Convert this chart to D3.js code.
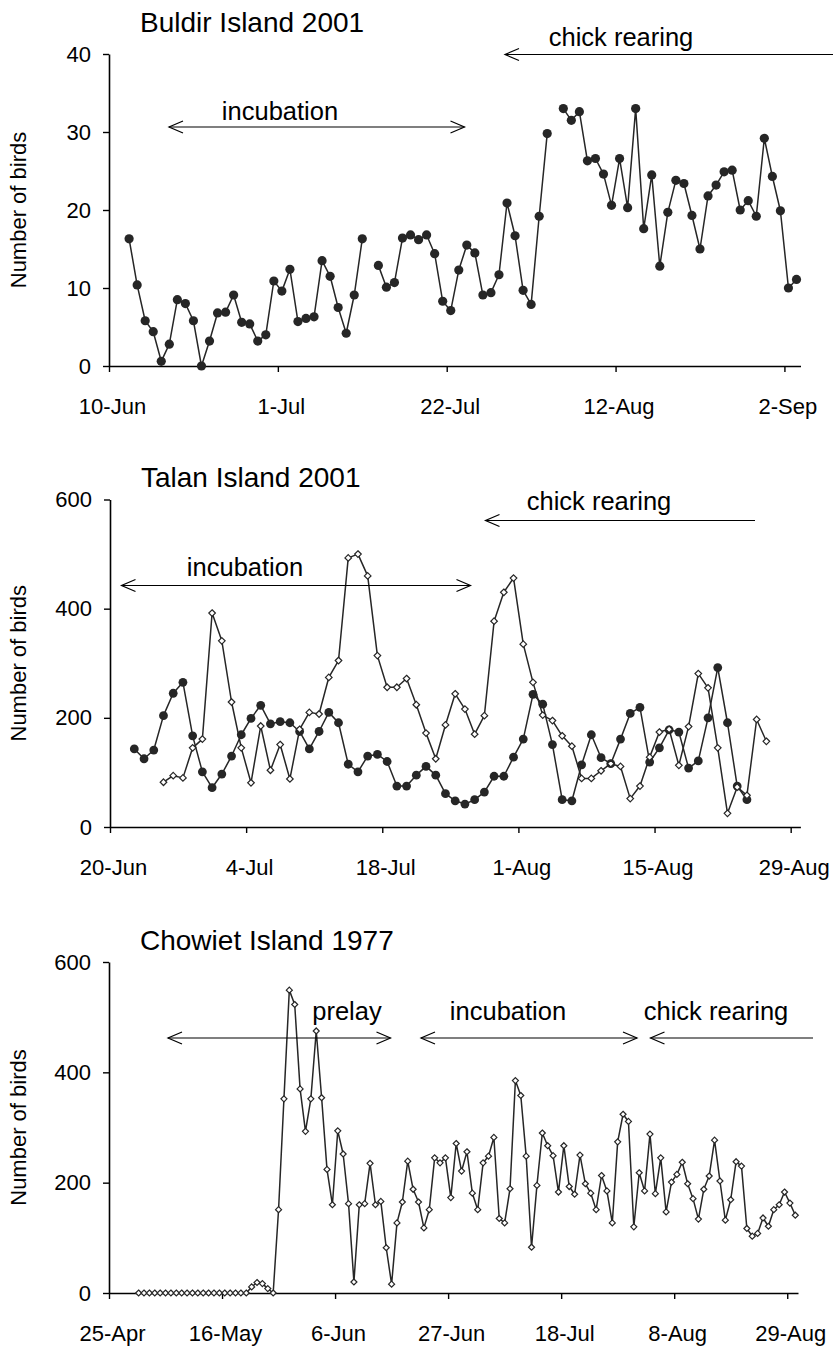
<!DOCTYPE html>
<html>
<head>
<meta charset="utf-8">
<script src="https://cdn.jsdelivr.net/npm/d3@7"></script>
<style>
  html, body { margin: 0; padding: 0; background: #fff; }
  svg { display: block; font-family: "Liberation Sans", Arial, Helvetica, sans-serif; }
</style>
</head>
<body>
<svg id="chart" width="833" height="1353"></svg>
<script>
// ---- Daily counts -------------------------------------------------------
// Buldir Island 2001, one count per day starting 12 June (null = no count)
const buldirStart = "2001-06-12";
const buldirCounts = [
  16.3, 10.4, 5.8, 4.4, 0.6, 2.8, 8.5, 8.0, 5.8, 0,
  3.2, 6.8, 6.9, 9.1, 5.6, 5.4, 3.2, 4.0, 10.9, 9.6,
  12.4, 5.7, 6.1, 6.3, 13.5, 11.5, 7.5, 4.2, 9.1, 16.3,
  null, 12.9, 10.1, 10.7, 16.4, 16.8, 16.2, 16.8, 14.4, 8.3,
  7.1, 12.3, 15.5, 14.5, 9.1, 9.4, 11.7, 20.9, 16.7, 9.7,
  7.9, 19.2, 29.8, null, 33.0, 31.5, 32.6, 26.3, 26.6, 24.6,
  20.6, 26.6, 20.3, 33.0, 17.6, 24.5, 12.8, 19.7, 23.8, 23.4,
  19.3, 15.0, 21.8, 23.2, 24.9, 25.1, 20.0, 21.2, 19.2, 29.2,
  24.3, 19.9, 10.0, 11.1
];

// Talan Island 2001, filled-circle series from 22 June
const talanFilledStart = "2001-06-22";
const talanFilled = [
  143, 125, 141, 204, 245, 265, 167, 101, 72, 97,
  130, 169, 199, 223, 189, 193, 191, 175, 143, 175,
  210, 191, 115, 101, 130, 133, 120, 75, 75, 95,
  111, 95, 61, 48, 42, 50, 64, 93, 93, 128,
  161, 243, 225, 151, 50, 48, 114, 169, 127, 116,
  161, 208, 219, 119, 145, 178, 174, 108, 121, 200,
  292, 191, 75, 50
];

// Talan Island 2001, open-diamond series from 25 June
const talanOpenStart = "2001-06-25";
const talanOpen = [
  82, 94, 90, 145, 161, 392, 341, 229, 145, 81,
  185, 104, 151, 88, 179, 210, 207, 274, 305, 493,
  500, 460, 314, 256, 256, 272, 224, 172, 125, 187,
  244, 216, 170, 204, 377, 430, 456, 335, 265, 205,
  195, 167, 148, 89, 89, 103, 116, 111, 52, 75,
  128, 174, 179, 113, 184, 281, 255, 145, 25, 73,
  58, 197, 157
];

// Chowiet Island 1977, open-diamond series from 30 April
const chowietStart = "1977-04-30";
const chowietCounts = [
  0, 0, 0, 0, 0, 0, 0, 0, 0, 0,
  0, 0, 0, 0, 0, 0, 0, 0, 0, 0,
  0, 11, 19, 17, 8, 0, 151, 352, 549, 523,
  370, 293, 352, 475, 354, 224, 160, 294, 252, 162,
  20, 160, 162, 235, 160, 166, 82, 16, 127, 165,
  239, 188, 165, 118, 151, 245, 236, 245, 173, 271,
  221, 256, 181, 151, 236, 248, 282, 135, 127, 189,
  385, 358, 248, 83, 195, 290, 267, 249, 183, 267,
  193, 179, 250, 198, 181, 151, 213, 185, 127, 274,
  324, 311, 120, 218, 185, 288, 180, 245, 147, 201,
  215, 237, 198, 171, 134, 188, 212, 277, 203, 132,
  169, 238, 230, 117, 103, 108, 136, 121, 151, 160,
  183, 163, 141
];

// ---- Axis ticks ---------------------------------------------------------
const buldirDateTicks  = ["2001-06-10", "2001-07-01", "2001-07-22", "2001-08-12", "2001-09-02"];
const talanDateTicks   = ["2001-06-20", "2001-07-04", "2001-07-18", "2001-08-01", "2001-08-15", "2001-08-29"];
const chowietDateTicks = ["1977-04-25", "1977-05-16", "1977-06-06", "1977-06-27", "1977-07-18", "1977-08-08", "1977-08-29"];
const buldirCountTicks  = [0, 10, 20, 30, 40];
const talanCountTicks   = [0, 200, 400, 600];
const chowietCountTicks = [0, 200, 400, 600];

// ---- Titles and breeding-stage labels ----------------------------------
const panelTitles = ["Buldir Island 2001", "Talan Island 2001", "Chowiet Island 1977"];
const yAxisTitle = "Number of birds";
const stageLabels = ["prelay", "incubation", "chick rearing"];

// ---- Helpers -------------------------------------------------------------
const parse = d3.utcParse("%Y-%m-%d");
const fmt = d3.utcFormat("%-d-%b");
const INK = "#262626";

// daily series -> points placed at the middle of each day
function daily(start, values) {
  const s = parse(start);
  return values.map((v, i) => ({ date: d3.utcHour.offset(d3.utcDay.offset(s, i), 12), v }));
}

const svg = d3.select("#chart");

function panel(opt) {
  const g = svg.append("g");
  const x = d3.scaleUtc().domain([parse(opt.xFrom), parse(opt.xTo)]).range([opt.left, opt.right]);
  const y = d3.scaleLinear().domain(opt.yDomain).range([opt.bottom, opt.top]);

  // title
  g.append("text")
    .attr("x", opt.left + 31).attr("y", opt.titleY)
    .attr("font-size", 28).attr("fill", "#000")
    .text(opt.title);

  // y-axis title
  g.append("text")
    .attr("transform", `translate(26,${(opt.top + opt.bottom) / 2}) rotate(-90)`)
    .attr("text-anchor", "middle").attr("font-size", 22).attr("fill", "#000")
    .text(yAxisTitle);

  // axes
  const xAxis = d3.axisBottom(x)
    .tickValues(opt.xTicks.map(parse)).tickFormat(fmt)
    .tickSizeInner(6).tickSizeOuter(0).tickPadding(26);
  const yAxis = d3.axisLeft(y)
    .tickValues(opt.yTicks).tickFormat(d3.format("d"))
    .tickSizeInner(6).tickSizeOuter(0).tickPadding(12);

  const gx = g.append("g").attr("transform", `translate(0,${opt.bottom})`).call(xAxis);
  const gy = g.append("g").attr("transform", `translate(${opt.left},0)`).call(yAxis);
  [gx, gy].forEach(a => {
    a.select(".domain").attr("stroke", "#000").attr("stroke-width", 1.6);
    a.selectAll(".tick line").attr("stroke", "#000").attr("stroke-width", 1.4);
    a.selectAll(".tick text").attr("font-size", 22).attr("fill", "#000")
      .attr("font-family", "Liberation Sans, Arial, sans-serif");
  });
  gx.selectAll(".tick text").attr("dx", 3);

  // series
  opt.series.forEach(s => {
    const line = d3.line().defined(d => d.v != null).x(d => x(d.date)).y(d => y(d.v));
    g.append("path").datum(s.data)
      .attr("fill", "none").attr("stroke", INK).attr("stroke-width", 1.5)
      .attr("stroke-linejoin", "round").attr("d", line);
    const pts = s.data.filter(d => d.v != null);
    if (s.marker === "circle") {
      g.append("g").selectAll("circle").data(pts).join("circle")
        .attr("cx", d => x(d.date)).attr("cy", d => y(d.v))
        .attr("r", opt.circleR || 4.5).attr("fill", INK);
    } else {
      const r = s.size || 3.2;
      g.append("g").selectAll("path").data(pts).join("path")
        .attr("transform", d => `translate(${x(d.date)},${y(d.v)})`)
        .attr("d", `M0,${-r}L${r},0L0,${r}L${-r},0Z`)
        .attr("fill", "#fff").attr("stroke", INK).attr("stroke-width", 1.2);
    }
  });

  // breeding-stage arrows
  opt.stages.forEach(st => {
    const a = g.append("g").attr("stroke", "#000").attr("stroke-width", 1.2).attr("fill", "none");
    a.append("line").attr("x1", st.x1).attr("x2", st.x2).attr("y1", st.y).attr("y2", st.y);
    a.append("path").attr("d", `M${st.x1 + 14},${st.y - 6}L${st.x1},${st.y}L${st.x1 + 14},${st.y + 6}`);
    if (st.both) {
      a.append("path").attr("d", `M${st.x2 - 14},${st.y - 6}L${st.x2},${st.y}L${st.x2 - 14},${st.y + 6}`);
    }
    g.append("text").attr("x", st.tx).attr("y", st.ty)
      .attr("text-anchor", "middle").attr("font-size", 25.5).attr("fill", "#000")
      .text(st.label);
  });
}

// Buldir
panel({
  title: panelTitles[0], titleY: 32,
  left: 109, right: 800.5, top: 54, bottom: 366,
  xFrom: "2001-06-10", xTo: "2001-09-04", xTicks: buldirDateTicks,
  yDomain: [0, 40], yTicks: buldirCountTicks,
  circleR: 4.6,
  series: [{ data: daily(buldirStart, buldirCounts), marker: "circle" }],
  stages: [
    { label: stageLabels[1], x1: 169, x2: 464.5, y: 127, both: true, tx: 280, ty: 120 },
    { label: stageLabels[2], x1: 505, x2: 833, y: 54.5, both: false, tx: 621, ty: 46 }
  ]
});

// Talan
panel({
  title: panelTitles[1], titleY: 487,
  left: 110, right: 800.4, top: 499.5, bottom: 827,
  xFrom: "2001-06-20", xTo: "2001-08-30", xTicks: talanDateTicks,
  yDomain: [0, 600], yTicks: talanCountTicks,
  circleR: 4.4,
  series: [
    { data: daily(talanFilledStart, talanFilled), marker: "circle" },
    { data: daily(talanOpenStart, talanOpen), marker: "diamond", size: 3.3 }
  ],
  stages: [
    { label: stageLabels[1], x1: 121.5, x2: 470.5, y: 585.5, both: true, tx: 245, ty: 576 },
    { label: stageLabels[2], x1: 485.5, x2: 755, y: 520.5, both: false, tx: 599, ty: 510 }
  ]
});

// Chowiet
panel({
  title: panelTitles[2], titleY: 950,
  left: 109, right: 798, top: 962, bottom: 1293,
  xFrom: "1977-04-25", xTo: "1977-08-31", xTicks: chowietDateTicks,
  yDomain: [0, 600], yTicks: chowietCountTicks,
  series: [{ data: daily(chowietStart, chowietCounts), marker: "diamond", size: 3.0 }],
  stages: [
    { label: stageLabels[0], x1: 168, x2: 390.5, y: 1038, both: true, tx: 347, ty: 1020 },
    { label: stageLabels[1], x1: 421, x2: 637, y: 1038, both: true, tx: 508, ty: 1020 },
    { label: stageLabels[2], x1: 650.5, x2: 813, y: 1038, both: false, tx: 716, ty: 1020 }
  ]
});
</script>
</body>
</html>
